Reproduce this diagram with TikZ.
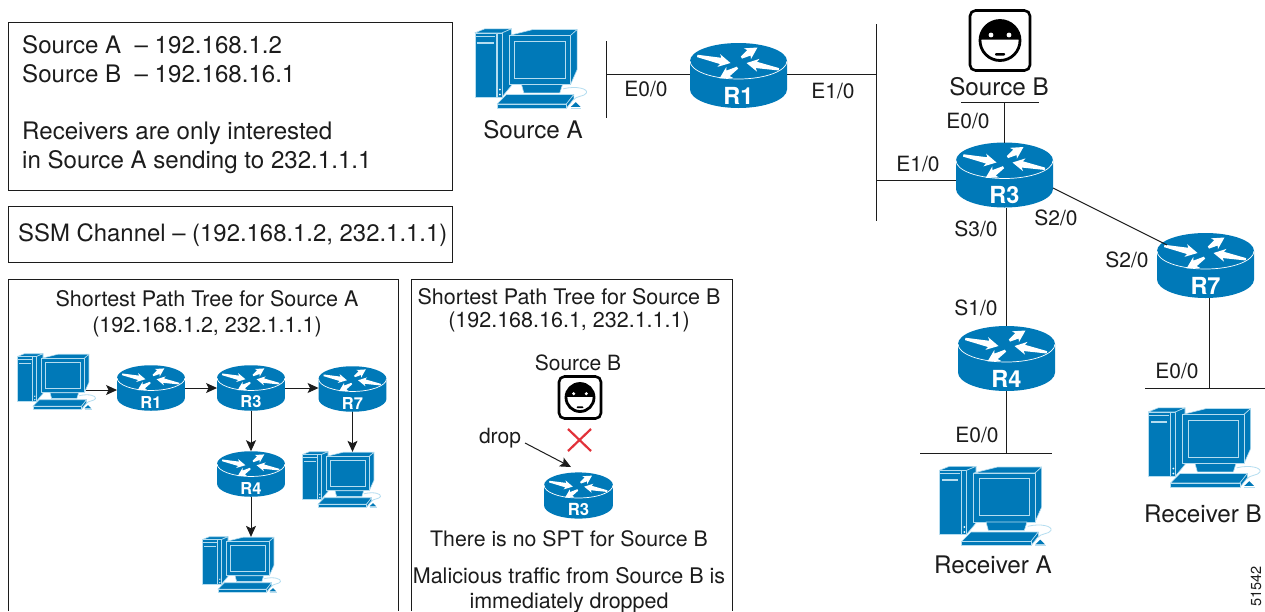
\documentclass[tikz,border=0pt]{standalone}
\usepackage{fontspec}
\setmainfont{TeX Gyre Heros}
\usetikzlibrary{arrows.meta,calc}
\definecolor{cblue}{HTML}{0079B8}
\definecolor{clight}{HTML}{B5DDF0}
\definecolor{ink}{HTML}{1C1C1C}
\definecolor{xred}{HTML}{E2323A}
\newcommand{\rarr}[4]{\fill[white,shift={(#1,#2)},rotate=#3] (0,0)--(-12,6.5)--(-10,3.2)--(-#4,1.2)--(-#4,-1.2)--(-10,-3.2)--(-12,-6.5)--cycle;}
\tikzset{
  x=1pt,y=-1pt,
  lab/.style={font=\fontsize{21}{25}\selectfont,text=ink,inner sep=0pt,align=center},
  captext/.style={font=\fontsize{24.2}{25}\selectfont,text=ink,inner sep=0pt,align=center},
  big/.style={font=\fontsize{24.1}{28.6}\selectfont,text=ink,inner sep=0pt,align=left},
  anchorbox/.style={inner sep=0pt,outer sep=0pt,draw=none,rectangle},
  wire/.style={draw=ink,line width=.9pt},
  framebox/.style={draw=ink,line width=.9pt},
  arr/.style={draw=ink,line width=1pt,-{Stealth[length=11pt,width=10pt,inset=2.5pt]}},
  pcpart/.style={fill=cblue,draw=clight,line width=.6pt,line join=round},
  pics/routericon/.style={code={
    \fill[cblue] (-48.5,-14.5) -- (-48.5,14) .. controls (-48.5,24) and (-26.8,32.5) .. (0,32.5)
      .. controls (26.8,32.5) and (48.5,24) .. (48.5,14) -- (48.5,-14.5) -- cycle;
    \fill[cblue] (0,-14.5) ellipse [x radius=48.5,y radius=18];
    \draw[white,line width=.7pt] (-48.5,-14.5) .. controls (-48.5,-4.6) and (-26.8,3.5) .. (0,3.5)
      .. controls (26.8,3.5) and (48.5,-4.6) .. (48.5,-14.5);
    \rarr{-8}{-12.5}{-12}{34}
    \rarr{19}{-28}{32}{19}
    \rarr{8}{-12.5}{169}{33}
    \rarr{-19}{3}{211}{21}
    \node[transform shape,inner sep=0pt,text=white,font=\bfseries\fontsize{23.5}{23.5}\selectfont] (lbl) at (0,20) {#1};
  }},
  pics/pcicon/.style={code={
    \begin{scope}[scale=1/3,shift={(-185,-177)}]
      \path[pcpart] (15,70)--(45,58)--(125,58)--(97,70)--cycle;
      \path[pcpart] (97,70)--(125,58)--(125,228)--(97,262)--cycle;
      \path[pcpart] (15,70)--(80,70)--(80,262)--(15,262)--cycle;
      \path[pcpart] (81,70)--(97,70)--(97,262)--(81,262)--cycle;
      \draw[clight,line width=.6pt] (18,80)--(76,80);
      \fill[clight] (22,96) rectangle (72,103);
      \fill[white] (90,240) circle [radius=3];
      \fill[white] (90,255) circle [radius=3];
      \path[pcpart] (118,78)--(190,60)--(322,60)--(302,78)--cycle;
      \path[pcpart] (302,78)--(322,60)--(322,180)--(302,225)--cycle;
      \path[pcpart] (118,78)--(302,78)--(302,225)--(118,225)--cycle;
      \draw[clight,line width=1.3pt] (135,95) rectangle (286,206);
      \path[pcpart] (155,225)--(278,225)--(270,250)--(162,250)--cycle;
      \draw[clight,line width=.8pt] (280,238) .. controls (320,228) and (355,238) .. (350,250)
        .. controls (345,262) and (318,258) .. (310,272);
      \path[pcpart] (82,283)--(110,255)--(312,255)--(290,283)--cycle;
      \path[pcpart] (312,255)--(312,268)--(290,296)--(290,283)--cycle;
      \path[pcpart] (82,283)--(290,283)--(290,296)--(82,296)--cycle;
      \fill[cblue] (303,292)--(318,278)--(332,292)--cycle;
      \draw[clight,line width=.7pt] (303,296)--(334,296);
    \end{scope}
  }},
  pics/faceicon/.style={code={
    \draw[draw=black,fill=white,line width=2.6pt,rounded corners=5.5pt] (-30,-30) rectangle (30,30);
    \draw[black,line width=2.8pt,fill=white] (0,0) circle [radius=20];
    \fill[black] (-20,-1) .. controls (-19,-12) and (-11,-20) .. (0,-20) .. controls (11,-20) and (19,-12) .. (20,-1) -- cycle;
    \fill[white] (-9,-5.5) circle [radius=2.4];
    \fill[white] (9,-5.5) circle [radius=2.4];
    \fill[black,rounded corners=1pt] (-5,12.5) rectangle (5,15.2);
  }}
}
\newcommand{\routerAt}[5]{%
  \node[anchorbox,minimum width=#4*97pt,minimum height=#4*65pt] (#1) at (#2,#3) {};
  \pic[scale=#4] at (#1) {routericon={#5}};}
\newcommand{\pcAt}[4]{%
  \node[anchorbox,minimum width=#4*113pt,minimum height=#4*79pt] (#1) at (#2,#3) {};
  \pic[scale=#4] at (#1) {pcicon};}
\newcommand{\faceAt}[4]{%
  \node[anchorbox,minimum width=#4*62pt,minimum height=#4*62pt] (#1) at (#2,#3) {};
  \pic[scale=#4] at (#1) {faceicon};}
\begin{document}
\begin{tikzpicture}
\useasboundingbox[fill=white] (0,0) rectangle (1265,611);
% frames
\draw[framebox] (8,22) rectangle (452,190);
\draw[framebox] (8,206) rectangle (452,262);
\draw[framebox] (8,611) -- (8,279) -- (398,279) -- (398,611);
\draw[framebox] (411,611) -- (411,279) -- (732,279) -- (732,611);
\node[big,anchor=west] (info) at (22,104.5) {Source A\ \ – 192.168.1.2\\Source B\ \ – 192.168.16.1\\[28.6pt]Receivers are only interested\\in Source A sending to 232.1.1.1};
\node[big,anchor=west,font=\fontsize{23.9}{28.6}\selectfont] (ssm) at (18,235) {SSM Channel – (192.168.1.2, 232.1.1.1)};
\node[lab,font=\fontsize{21.5}{26}\selectfont] (ta) at (207,313.5) {Shortest Path Tree for Source A\\(192.168.1.2, 232.1.1.1)};
\node[lab,font=\fontsize{21.5}{23}\selectfont] (tb) at (569,310) {Shortest Path Tree for Source B\\(192.168.16.1, 232.1.1.1)};
% main network
\routerAt{r1}{738.5}{75.5}{1}{R1}
\routerAt{r3}{1004.5}{175}{1}{R3}
\routerAt{r7}{1205.5}{265.5}{1}{R7}
\routerAt{r4}{1006.5}{358.5}{1}{R4}
\pcAt{srca}{531.5}{68.5}{1}
\pcAt{reca}{996}{506}{1}
\pcAt{recb}{1205}{447.5}{1}
\faceAt{srcb}{1000}{40.5}{1}
\coordinate (b1t) at (606,41); \coordinate (b1b) at (606,118);
\coordinate (b2t) at (876,24); \coordinate (b2b) at (876,221);
\coordinate (b3l) at (961,102); \coordinate (b3r) at (1039,102);
\coordinate (b4l) at (920,453); \coordinate (b4r) at (1052,453);
\coordinate (b5l) at (1145,388); \coordinate (b5r) at (1265,388);
\coordinate (j1) at (606,74); \coordinate (j2) at (876,74); \coordinate (j3) at (876,180);
\coordinate (j4) at (1004.5,102); \coordinate (j5) at (1006.5,453); \coordinate (j6) at (1209,388);
\coordinate (d1) at (1053,188); \coordinate (d2) at (1167,245);
\draw[wire] (b1t) -- (b1b);
\draw[wire] (b2t) -- (b2b);
\draw[wire] (b3l) -- (b3r);
\draw[wire] (b4l) -- (b4r);
\draw[wire] (b5l) -- (b5r);
\draw[wire] (j1) -- (r1.west |- j1);
\draw[wire] (r1.east |- j2) -- (j2);
\draw[wire] (j3) -- (r3.west |- j3);
\draw[wire] (j4) -- (r3.north);
\draw[wire] (r3.south -| r4) -- (r4.north);
\draw[wire] (r4.south) -- (j5);
\draw[wire] (d1) -- (d2);
\draw[wire] (r7.south -| j6) -- (j6);
\node[lab] (l1) at (646,89) {E0/0};
\node[lab] (l2) at (833,91) {E1/0};
\node[captext] (l3) at (533,130) {Source A};
\node[captext] (l4) at (999,87) {Source B};
\node[lab] (l5) at (968,121) {E0/0};
\node[lab] (l6) at (918,164) {E1/0};
\node[lab] (l7) at (976,229) {S3/0};
\node[lab] (l8) at (1056,218) {S2/0};
\node[lab] (l9) at (1127,260) {S2/0};
\node[lab] (l10) at (976,308) {S1/0};
\node[lab] (l11) at (977,435) {E0/0};
\node[lab] (l12) at (1177,371) {E0/0};
\node[captext] (l13) at (993,565) {Receiver A};
\node[captext] (l14) at (1203,514) {Receiver B};
\node[lab,font=\fontsize{14.5}{14.5}\selectfont,rotate=90,anchor=west] (code) at (1256,607) {51542};
% SPT A
\routerAt{sr1}{151}{388}{.7}{R1}
\routerAt{sr3}{251}{388}{.7}{R3}
\routerAt{sr7}{352.5}{389}{.7}{R7}
\routerAt{sr4}{251}{474}{.7}{R4}
\pcAt{sp1}{57}{381.5}{.7}
\pcAt{sp7}{342}{479.5}{.7}
\pcAt{sp4}{242}{564.5}{.7}
\coordinate (a0) at (86,390);
\draw[arr] (a0) -- (sr1.west |- a0);
\draw[arr] (sr1) -- (sr3);
\draw[arr] (sr3.east) -- (sr7.west |- sr3.east);
\draw[arr] (sr3.south) -- (sr4.north);
\draw[arr] (sr4.south) -- (sr4.south |- sp4.north);
\draw[arr] (sr7.south) -- (sr7.south |- sp7.north);
% SPT B
\node[lab] (sb) at (578,363) {Source B};
\faceAt{sf}{580}{397.5}{.7}
\routerAt{sr3b}{578.5}{495.5}{.71}{R3}
\node[lab] (dr) at (500,438) {drop};
\coordinate (x1) at (568,429); \coordinate (x2) at (591,451);
\coordinate (x3) at (591,429); \coordinate (x4) at (568,451);
\draw[xred,line width=2.2pt] (x1) -- (x2);
\draw[xred,line width=2.2pt] (x3) -- (x4);
\coordinate (dstart) at (525,443); \coordinate (dend) at (571,467);
\draw[arr] (dstart) -- (dend);
\node[lab,font=\fontsize{21.3}{25}\selectfont] (n1) at (569,539) {There is no SPT for Source B};
\node[lab,font=\fontsize{21.5}{25}\selectfont] (n2) at (569,590) {Malicious traffic from Source B is\\immediately dropped};
\end{tikzpicture}
\end{document}
